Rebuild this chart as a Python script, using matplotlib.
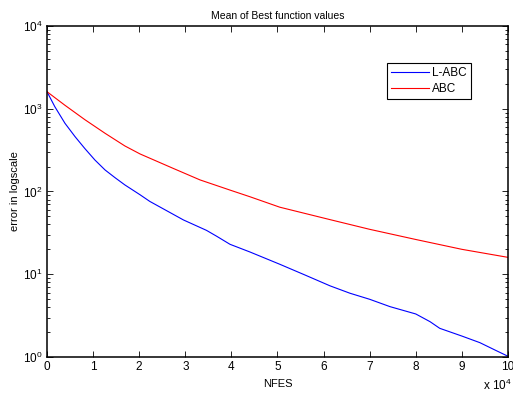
import matplotlib
matplotlib.use("Agg")
import matplotlib.pyplot as plt
import numpy as np
from matplotlib.ticker import LogLocator, NullFormatter, FixedLocator

# data (NFES, mean best error)
labc_nfes = [0, 1700, 3900, 6100, 8200, 10400, 12600, 14750, 16900, 20200, 22300,
             29600, 34600, 36800, 39700, 44000, 50500, 56000, 61400, 65700, 70000,
             74400, 80000, 83100, 85200, 90000, 93900, 97500, 100000]
labc_err = [1607, 1059, 667, 459, 331, 240, 182, 147, 120, 91.2, 75.9,
            45.3, 33.9, 28.8, 23.0, 18.6, 13.2, 9.77, 7.24, 5.9, 4.98,
            4.06, 3.31, 2.67, 2.22, 1.79, 1.49, 1.19, 1.02]

abc_nfes = [0, 3900, 8200, 12600, 16900, 20200, 27400, 33200, 39700, 44000,
            50500, 61400, 70000, 80000, 90000, 100000]
abc_err = [1607, 1101, 739, 505, 355, 284, 190, 138, 104, 86.5,
           64.6, 45.7, 34.9, 26.3, 20.0, 16.0]

x_ticks = list(range(0, 11))

plt.rcParams["font.family"] = ["Liberation Sans", "DejaVu Sans"]
plt.rcParams["mathtext.default"] = "regular"

fig = plt.figure(figsize=(5.13, 3.97), dpi=100)
ax = fig.add_axes([0.0916, 0.1008, 0.8986, 0.8337])

scale = 1e4
ax.plot(np.array(labc_nfes) / scale, labc_err, color="#0000ff", lw=0.8, label="L-ABC")
ax.plot(np.array(abc_nfes) / scale, abc_err, color="#ff0000", lw=0.8, label="ABC")

ax.set_yscale("log")
ax.set_ylim(1, 1e4)
ax.set_xlim(0, 10)
ax.xaxis.set_major_locator(FixedLocator(x_ticks))
ax.set_xticklabels([str(t) for t in x_ticks])
ax.yaxis.set_major_locator(LogLocator(base=10, numticks=10))
ax.yaxis.set_minor_locator(LogLocator(base=10, subs=np.arange(2, 10), numticks=20))
ax.yaxis.set_minor_formatter(NullFormatter())

ax.tick_params(which="both", direction="in", top=True, right=True, labelsize=8.5,
               width=0.6, colors="black")
ax.tick_params(which="major", length=4, pad=3)
ax.tick_params(which="minor", length=2)
for s in ax.spines.values():
    s.set_linewidth(1.1)

ax.set_title("Mean of Best function values", fontsize=7.5, pad=5)
ax.set_xlabel("NFES", fontsize=8, labelpad=4)
ax.set_ylabel("error in logscale", fontsize=8, labelpad=2)
ax.text(1.008, -0.1, r"x $10^4$", transform=ax.transAxes, ha="right", va="baseline",
        fontsize=8.5)

leg = ax.legend(loc="upper left", bbox_to_anchor=(0.737, 0.888), borderaxespad=0,
                fontsize=8.5, handlelength=3.2, handletextpad=0.3, labelspacing=0.35,
                borderpad=0.35, fancybox=False, framealpha=1)
leg.get_frame().set_edgecolor("black")
leg.get_frame().set_linewidth(0.8)

fig.savefig("out.png", dpi=100)
